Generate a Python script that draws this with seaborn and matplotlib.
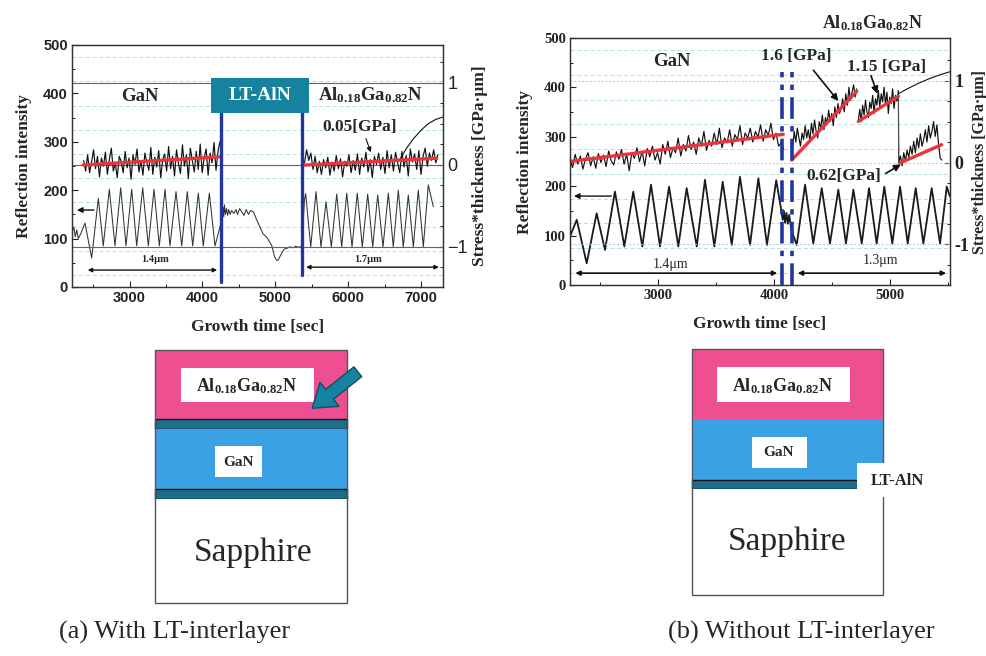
import numpy as np
import matplotlib
matplotlib.use("Agg")
import matplotlib.pyplot as plt
import seaborn as sns
from matplotlib.patches import Rectangle

sns.set_theme(style="ticks")
plt.rcParams['font.family'] = ['Liberation Serif', 'DejaVu Serif']
plt.rcParams['mathtext.fontset'] = 'custom'
plt.rcParams['mathtext.rm'] = 'Liberation Serif'
plt.rcParams['mathtext.bf'] = 'Liberation Serif:bold'
plt.rcParams['axes.unicode_minus'] = True

# ---------------- panel (a): with LT-AlN interlayer ----------------
# reflection intensity, extrema
a_gan_t = [2210, 2235, 2255, 2275, 2296, 2330, 2388, 2480, 2571, 2639, 2722, 2800, 2878, 2951, 3029, 3098,
           3180, 3257, 3335, 3408, 3486, 3554, 3637, 3715, 3792, 3866, 3943, 4011, 4094, 4172, 4254]
a_gan_r = [112, 124, 104, 118, 100, 110, 132, 60, 183, 85, 202, 85, 205, 85, 202, 85,
           205, 85, 202, 85, 202, 85, 197, 85, 197, 85, 194, 85, 194, 85, 132]
a_lt_t = [4262, 4272, 4282, 4292, 4302, 4315, 4330, 4345, 4360, 4380, 4400, 4430, 4460, 4480, 4510, 4540,
          4570, 4600, 4630, 4660, 4700, 4740, 4789, 4830, 4881, 4950, 4990, 5018, 5040, 5080, 5120, 5160,
          5200, 5240, 5280, 5320, 5361]
a_lt_r = [150, 138, 165, 145, 170, 150, 162, 148, 160, 150, 158, 152, 160, 150, 162, 155,
          148, 160, 150, 158, 155, 140, 124, 110, 103, 86, 62, 55, 56, 68, 78, 80,
          83, 81, 84, 82, 84]
a_algan_t = [5400, 5416, 5485, 5558, 5626, 5695, 5768, 5842, 5910, 5979, 6052, 6124, 6193, 6267, 6336, 6404,
             6477, 6550, 6618, 6687, 6755, 6824, 6893, 6961, 7030, 7098, 7167]
a_algan_r = [180, 193, 83, 197, 83, 176, 83, 192, 83, 194, 83, 194, 83, 192, 83, 190,
             83, 194, 83, 200, 83, 190, 83, 200, 83, 211, 166]

# stress*thickness traces (GPa*um), sampled evenly between the start and end times
a_gan_span = [2370, 4240]
a_gan_s = [0.05, -0.08, 0.12, -0.1, 0.03, 0.18, -0.05, 0.1, -0.15, 0.08, -0.02, 0.15, -0.12, 0.06, 0.2,
           -0.08, 0.02, -0.16, 0.1, 0.04, -0.1, 0.16, -0.04, 0.08, -0.18, 0.12, 0.0, 0.19, -0.09, 0.05,
           -0.13, 0.14, 0.02, -0.07, 0.21, -0.12, 0.09, -0.03, 0.17, -0.16, 0.06, 0.13, -0.08, 0.22, -0.05,
           0.1, -0.14, 0.18, 0.01, -0.11, 0.24, -0.02, 0.12, -0.17, 0.2, 0.05, -0.09, 0.16, -0.06, 0.25,
           -0.1, 0.08, 0.19, -0.13, 0.14, 0.02, 0.27, -0.07, 0.16, 0.28]
a_algan_span = [5400, 7230]
a_algan_s = [0.02, 0.18, 0.05, 0.14, -0.06, 0.1, -0.1, 0.04, -0.12, 0.06, -0.04, 0.09, -0.13, 0.03, -0.08,
             0.11, -0.05, 0.07, -0.15, 0.04, -0.02, 0.12, -0.1, 0.05, -0.07, 0.13, -0.12, 0.08, -0.03, 0.15,
             -0.09, 0.06, -0.16, 0.1, 0.0, 0.14, -0.06, 0.09, -0.11, 0.17, -0.04, 0.12, -0.08, 0.15, 0.02,
             -0.1, 0.16, -0.03, 0.11, -0.14, 0.19, 0.03, 0.13, -0.06, 0.17, -0.12, 0.1, 0.2, -0.02, 0.14,
             0.05, 0.18, 0.02, 0.12]
a_tail_t = [6700, 6800, 6900, 7000, 7100, 7200, 7300]
a_tail_s = [0.05, 0.2, 0.32, 0.42, 0.5, 0.55, 0.58]
# linear fits (red)
a_fit_t = [[2365, 4241], [5407, 7214]]
a_fit_s = [[-0.006, 0.094], [-0.006, 0.077]]
a_interlayer = [4254, 5361]

# ---------------- panel (b): without interlayer ----------------
b_gan_t = [2240, 2298, 2384, 2470, 2542, 2628, 2709, 2786, 2864, 2939, 3017, 3095, 3175, 3247, 3334, 3405,
           3486, 3558, 3636, 3707, 3794, 3866, 3940, 4020, 4066]
b_gan_r = [98, 132, 44, 145, 71, 189, 78, 189, 78, 203, 78, 199, 78, 196, 78, 213,
           78, 209, 81, 219, 81, 216, 81, 212, 148]
b_lt_t = [4076, 4086, 4096, 4108, 4120, 4132, 4150]
b_lt_r = [132, 150, 126, 146, 124, 142, 112]
b_algan_t = [4197, 4269, 4340, 4413, 4484, 4556, 4622, 4686, 4758, 4821, 4887, 4953, 5022, 5089, 5155, 5224,
             5290, 5362, 5434, 5492, 5518]
b_algan_r = [81, 203, 84, 196, 84, 193, 84, 193, 84, 196, 84, 199, 84, 199, 84, 196,
             84, 196, 84, 199, 180]

b_gan_span = [2240, 4085]
b_gan_s = [0.05, -0.06, 0.1, -0.02, 0.08, -0.08, 0.04, 0.12, -0.04, 0.07, -0.07, 0.11, 0.0, 0.09, -0.05,
           0.14, 0.02, -0.03, 0.13, 0.04, 0.16, -0.02, 0.1, -0.1, 0.12, 0.05, 0.18, 0.01, 0.14, -0.04,
           0.17, 0.07, 0.2, 0.03, 0.12, -0.02, 0.22, 0.1, 0.26, 0.06, 0.18, 0.12, 0.3, 0.08, 0.22,
           0.14, 0.33, 0.16, 0.25, 0.1, 0.3, 0.2, 0.38, 0.15, 0.27, 0.2, 0.36, 0.22, 0.42, 0.18,
           0.3, 0.24, 0.4, 0.2, 0.34, 0.28, 0.45, 0.22, 0.36, 0.3, 0.42, 0.25, 0.38, 0.31, 0.46,
           0.26, 0.4, 0.33, 0.48, 0.28, 0.36, 0.2, 0.24, 0.16]
b_s1_span = [4162, 4715]
b_s1 = [0.2, 0.38, 0.25, 0.42, 0.3, 0.2, 0.36, 0.28, 0.45, 0.3, 0.4, 0.26, 0.48, 0.35, 0.52, 0.38, 0.3,
        0.5, 0.42, 0.58, 0.4, 0.55, 0.47, 0.64, 0.5, 0.6, 0.45, 0.68, 0.55, 0.72, 0.6, 0.66, 0.78, 0.62,
        0.84, 0.7, 0.92, 0.76, 0.86, 0.95, 0.8, 0.9]
b_s2_span = [4729, 5074]
b_s2 = [0.52, 0.65, 0.5, 0.7, 0.58, 0.76, 0.62, 0.55, 0.74, 0.66, 0.82, 0.6, 0.78, 0.7, 0.88, 0.68,
        0.84, 0.74, 0.92, 0.7, 0.86, 0.6, 0.8, 0.72, 0.9, 0.66, 0.82, 0.75, 0.88]
b_s3_span = [5078, 5450]
b_s3 = [0.0, 0.08, -0.04, 0.12, 0.02, 0.15, 0.06, 0.2, 0.1, 0.26, 0.12, 0.3, 0.18, 0.35, 0.2, 0.28,
        0.4, 0.25, 0.45, 0.3, 0.38, 0.5, 0.32, 0.46, 0.22, 0.05, 0.03]
b_tail_t = [5074, 5150, 5250, 5350, 5450, 5520]
b_tail_s = [0.84, 0.9, 0.97, 1.03, 1.08, 1.11]
b_fit_t = [[2240, 4081], [4154, 4715], [4729, 5074], [5089, 5448]]
b_fit_s = [[0.013, 0.345], [0.031, 0.87], [0.502, 0.81], [-0.005, 0.218]]
b_interlayer = [4066, 4160]

# ---------------- layer sketches ----------------
stack_a = ['AlGaN', 'LT-AlN', 'GaN', 'LT-AlN', 'Sapphire']
thick_a = [69, 10, 60, 10, 104]
stack_b = ['AlGaN', 'GaN', 'LT-AlN', 'Sapphire']
thick_b = [70, 61, 9, 106]
layer_color = {'AlGaN': '#ee4f90', 'GaN': '#3aa2e4', 'LT-AlN': '#1b6e8c', 'Sapphire': 'white'}

RED = '#e8343a'
BLUE = '#2236a0'
TEAL = '#15839f'
ALGAN = r'$\mathbf{Al_{0.18}Ga_{0.82}N}$'

fig = plt.figure(figsize=(9.87, 6.56), dpi=100)
bg = fig.add_axes([0, 0, 1, 1], zorder=0)
bg.set_xlim(0, 987)
bg.set_ylim(656, 0)
bg.axis('off')


def make_panel(rect, xlim, slim, xticks, num_font, right_font, right_size, minus, rlabel_size, rpad):
    ax = fig.add_axes(rect, zorder=2)
    ax2 = ax.twinx()
    ax.set_xlim(xlim)
    ax.set_ylim(0, 500)
    ax2.set_ylim(slim)
    ax.set_yticks(range(0, 501, 100))
    ax.set_yticklabels([str(v) for v in range(0, 501, 100)], fontweight='bold',
                       fontfamily=num_font, fontsize=10.5)
    ax.set_yticks(range(50, 500, 100), minor=True)
    ax.set_xticks(xticks)
    ax.set_xticklabels([str(v) for v in xticks], fontweight='bold', fontfamily=num_font, fontsize=10.5)
    ax.set_xticks(np.arange(2500, xlim[1], 500), minor=True)
    ax2.set_yticks([-1, 0, 1])
    ax2.set_yticklabels([minus + '1', '0', '1'], fontfamily=right_font, fontsize=right_size,
                        fontweight='bold' if right_font == 'Liberation Serif' else 'normal')
    ax2.set_yticks(np.arange(-1.25, 1.5, 0.25), minor=True)
    for a in (ax, ax2):
        a.tick_params(which='major', direction='in', length=4, width=0.8, pad=3, colors='#222222')
        a.tick_params(which='minor', direction='in', length=2.5, width=0.7, colors='#222222')
        for sp in a.spines.values():
            sp.set_linewidth(0.9)
            sp.set_color('#333333')
    ax.grid(False)
    ax2.grid(False)
    for v in range(25, 500, 50):
        ax.axhline(v, color='#a6dcdc', lw=0.6, ls=(0, (5, 3)), zorder=0)
    ax.set_xlabel('Growth time [sec]', fontsize=12.5, fontweight='bold', labelpad=10)
    ax.set_ylabel('Reflection intensity', fontsize=12.5, fontweight='bold', labelpad=8)
    ax2.set_ylabel('Stress*thickness [GPa·μm]', fontsize=rlabel_size, fontweight='bold', labelpad=rpad)
    return ax, ax2


def trace(ax, t, y, color, lw):
    sns.lineplot(x=np.asarray(t, float), y=np.asarray(y, float), ax=ax, color=color, lw=lw,
                 estimator=None, sort=False)


# ---------- panel (a) ----------
ax, ax2 = make_panel([72 / 987, 369 / 656, 371 / 987, 242 / 656], (2210, 7300), (-1.4935, 1.458),
                     [3000, 4000, 5000, 6000, 7000], 'Liberation Sans', 'Liberation Sans', 13, '\u2212',
                     12.5, 3)
for s in (-1, 0, 1):
    ax2.axhline(s, color='#4a5ec8', lw=0.8, zorder=1)
trace(ax, a_gan_t + a_lt_t + a_algan_t, a_gan_r + a_lt_r + a_algan_r, '#333333', 0.75)
trace(ax2, np.linspace(*a_gan_span, len(a_gan_s)), a_gan_s, '#111111', 0.85)
trace(ax2, np.linspace(*a_algan_span, len(a_algan_s)), a_algan_s, '#111111', 0.85)
trace(ax2, a_tail_t, a_tail_s, '#111111', 0.8)
for t, s in zip(a_fit_t, a_fit_s):
    trace(ax2, t, s, RED, 2.4)
ax.set_xlim(2210, 7300)
ax.set_ylim(0, 500)
ax2.set_ylim(-1.4935, 1.458)

ax2.plot([a_interlayer[0]] * 2, [11, 400], color=BLUE, lw=2.4, transform=ax.transData, zorder=5)
ax2.plot([a_interlayer[1]] * 2, [25, 400], color=BLUE, lw=2.4, transform=ax.transData, zorder=5)
ax2.add_patch(Rectangle((4113, 359), 1353, 72, fc=TEAL, ec='none', transform=ax.transData, zorder=6))
ax2.text(4790, 395, 'LT-AlN', color='white', fontsize=14, fontweight='bold', ha='center', va='center',
         transform=ax.transData, zorder=7)
ax2.text(3143, 393, 'GaN', fontsize=13.5, fontweight='bold', ha='center', va='center', transform=ax.transData)
ax2.text(6300, 396, ALGAN, fontsize=13.5, ha='center', va='center', transform=ax.transData)
ax2.text(6161, 331, '0.05[GPa]', fontsize=12.5, fontweight='bold', ha='center', va='center',
         transform=ax.transData)
ax2.annotate('', xy=(6322, 273), xytext=(6230, 312), xycoords=ax.transData, textcoords=ax.transData,
             arrowprops=dict(arrowstyle='-|>', color='#111111', lw=0.8, mutation_scale=7))
ax2.annotate('', xy=(2240, 159), xytext=(2549, 159), xycoords=ax.transData, textcoords=ax.transData,
             arrowprops=dict(arrowstyle='-|>', color='#111111', lw=1.0, mutation_scale=8))
ax2.annotate('', xy=(2388, 35), xytext=(4240, 35), xycoords=ax.transData, textcoords=ax.transData,
             arrowprops=dict(arrowstyle='<|-|>', color='#111111', lw=1.0, mutation_scale=6))
ax2.annotate('', xy=(5383, 41), xytext=(7282, 41), xycoords=ax.transData, textcoords=ax.transData,
             arrowprops=dict(arrowstyle='<|-|>', color='#111111', lw=1.0, mutation_scale=6))
ax2.text(3349, 56, '1.4μm', fontsize=7.5, fontweight='bold', ha='center', va='center', transform=ax.transData)
ax2.text(6275, 56, '1.7μm', fontsize=7.5, fontweight='bold', ha='center', va='center', transform=ax.transData)

# ---------- panel (b) ----------
bx, bx2 = make_panel([570 / 987, 371 / 656, 380 / 987, 247 / 656], (2240, 5520), (-1.497, 1.522),
                     [3000, 4000, 5000], 'Liberation Serif', 'Liberation Serif', 13, '-', 11.5, 2)
for s in (-1, 0, 1):
    bx2.axhline(s, color='#b3bde8', lw=0.7, ls=(0, (2, 2)), zorder=1)
trace(bx, b_gan_t + b_lt_t + b_algan_t, b_gan_r + b_lt_r + b_algan_r, '#1a1a1a', 1.3)
trace(bx2, np.linspace(*b_gan_span, len(b_gan_s)), b_gan_s, '#111111', 0.85)
trace(bx2, np.linspace(*b_s1_span, len(b_s1)), b_s1, '#111111', 0.85)
trace(bx2, np.concatenate([np.linspace(*b_s2_span, len(b_s2)), np.linspace(*b_s3_span, len(b_s3))]),
      b_s2 + b_s3, '#111111', 0.85)
trace(bx2, b_tail_t, b_tail_s, '#111111', 0.8)
for t, s in zip(b_fit_t, b_fit_s):
    trace(bx2, t, s, RED, 2.4)
bx.set_xlim(2240, 5520)
bx.set_ylim(0, 500)
bx2.set_ylim(-1.497, 1.522)

for t in b_interlayer:
    bx2.plot([t, t], [0, 432], color=BLUE, lw=2.6, ls=(0, (6, 2, 1.5, 2)), transform=bx.transData, zorder=5)
bx2.text(3118, 452, 'GaN', fontsize=13.5, fontweight='bold', ha='center', va='center', transform=bx.transData)
bx2.text(4855, 530, ALGAN, fontsize=13, ha='center', va='center', transform=bx.transData, clip_on=False)
bx2.text(4197, 463, '1.6 [GPa]', fontsize=12.5, fontweight='bold', ha='center', va='center',
         transform=bx.transData)
bx2.text(4974, 442, '1.15 [GPa]', fontsize=12.5, fontweight='bold', ha='center', va='center',
         transform=bx.transData)
bx2.text(4599, 220, '0.62[GPa]', fontsize=12.5, fontweight='bold', ha='center', va='center',
         transform=bx.transData, zorder=6)
for p0, p1 in [((4326, 439), (4571, 368)), ((4830, 429), (4901, 382)), ((4944, 223), (5117, 247))]:
    bx2.annotate('', xy=p1, xytext=p0, xycoords=bx.transData, textcoords=bx.transData,
                 arrowprops=dict(arrowstyle='-|>', color='#111111', lw=1.2, mutation_scale=10))
bx2.plot([5074, 5074], [382, 247], color='#555555', lw=0.6, transform=bx.transData)
bx2.annotate('', xy=(2250, 180), xytext=(2620, 180), xycoords=bx.transData, textcoords=bx.transData,
             arrowprops=dict(arrowstyle='-|>', color='#111111', lw=1.0, mutation_scale=8))
bx2.annotate('', xy=(2262, 24), xytext=(4053, 24), xycoords=bx.transData, textcoords=bx.transData,
             arrowprops=dict(arrowstyle='<|-|>', color='#111111', lw=1.2, mutation_scale=7))
bx2.annotate('', xy=(4182, 24), xytext=(5510, 24), xycoords=bx.transData, textcoords=bx.transData,
             arrowprops=dict(arrowstyle='<|-|>', color='#111111', lw=1.2, mutation_scale=7))
bx2.text(3109, 42, '1.4μm', fontsize=10, ha='center', va='center', transform=bx.transData)
bx2.text(4916, 50, '1.3μm', fontsize=10, ha='center', va='center', transform=bx.transData)


# ---------- layer sketches ----------
def stack(left, right, top, names, thick):
    tops = top + np.concatenate([[0], np.cumsum(thick)[:-1]])
    for name, y0, h in zip(names, tops, thick):
        ec = '#111111' if name == 'LT-AlN' else 'none'
        bg.bar((left + right) / 2, h, bottom=y0, width=right - left, color=layer_color[name],
               edgecolor=ec, lw=1.0)
    bg.add_patch(Rectangle((left, top), right - left, sum(thick), fc='none', ec='#555555', lw=1.0))


stack(155, 347, 350, stack_a, thick_a)
stack(692, 883, 349, stack_b, thick_b)

for x0, y0, w, h in [(181, 368, 133, 34), (215, 446, 47, 31), (717, 367, 133, 35), (752, 437, 55, 31),
                     (857, 463, 80, 34)]:
    bg.add_patch(Rectangle((x0, y0), w, h, fc='white', ec='none', zorder=3))
bg.text(247, 386, ALGAN, fontsize=13, ha='center', va='center', zorder=4)
bg.text(238, 462, 'GaN', fontsize=11, fontweight='bold', ha='center', va='center', zorder=4)
bg.text(783, 386, ALGAN, fontsize=13, ha='center', va='center', zorder=4)
bg.text(779, 453, 'GaN', fontsize=11, fontweight='bold', ha='center', va='center', zorder=4)
bg.text(897, 481, 'LT-AlN', fontsize=12, fontweight='bold', ha='center', va='center', zorder=4)
bg.text(253, 553, 'Sapphire', fontsize=24, ha='center', va='center', zorder=4)
bg.text(787, 542, 'Sapphire', fontsize=24, ha='center', va='center', zorder=4)
bg.annotate('', xy=(310, 410), xytext=(360, 370),
            arrowprops=dict(arrowstyle='simple,head_length=0.8,head_width=1.1,tail_width=0.45',
                            fc=TEAL, ec='#0e4e66', lw=1.0, mutation_scale=20), zorder=5)

bg.text(175, 632, '(a) With LT-interlayer', fontsize=19, ha='center', va='center')
bg.text(801, 632, '(b) Without LT-interlayer', fontsize=19, ha='center', va='center')

fig.savefig('out.png', dpi=100, facecolor='white')
